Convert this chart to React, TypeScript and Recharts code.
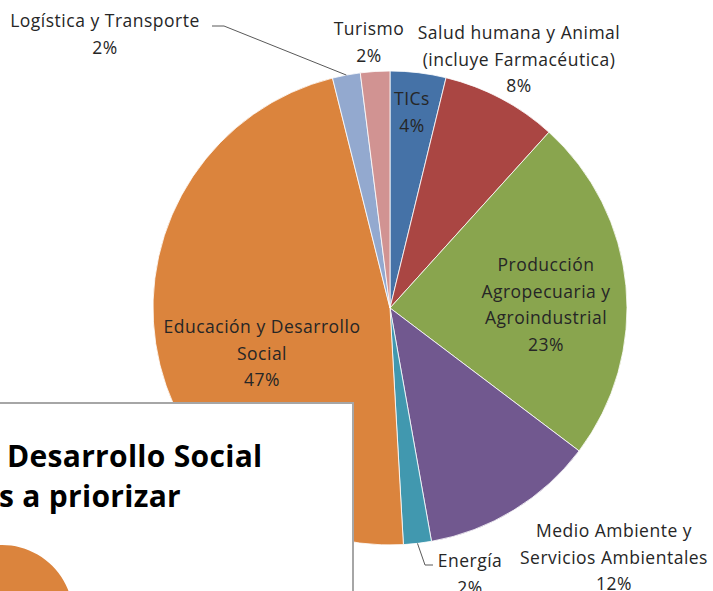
import React from 'react';
import { PieChart, Pie, Cell } from 'recharts';

const categories = [
  'TICs',
  'Salud humana y Animal (incluye Farmacéutica)',
  'Producción Agropecuaria y Agroindustrial',
  'Medio Ambiente y Servicios Ambientales',
  'Energía',
  'Educación y Desarrollo Social',
  'Logística y Transporte',
  'Turismo',
];
const shares = [3.8, 7.9, 23.6, 11.9, 1.9, 47.0, 1.9, 2.0];
const percentLabels = ['4%', '8%', '23%', '12%', '2%', '47%', '2%', '2%'];
const labelTextLines = [
  ['TICs'],
  ['Salud humana y Animal', '(incluye Farmacéutica)'],
  ['Producción', 'Agropecuaria y', 'Agroindustrial'],
  ['Medio Ambiente y', 'Servicios Ambientales'],
  ['Energía'],
  ['Educación y Desarrollo', 'Social'],
  ['Logística y Transporte'],
  ['Turismo'],
];
const colors = ['#4572A7', '#AA4643', '#89A54E', '#71588F', '#4198AF', '#DB843D', '#93A9CF', '#D19392'];

const overlayTitle = ['Desarrollo Social', 's a priorizar'];

// label layout offsets (relative to pie centre), and leader elbows
const labelLayout: { dx: number; dy: number; leader?: [number, number][] }[] = [
  { dx: 22, dy: -203 },
  { dx: 129, dy: -269 },
  { dx: 156, dy: -37 },
  { dx: 224, dy: 229 },
  { dx: 80, dy: 259, leader: [[35, 257], [43, 257]] },
  { dx: -128, dy: 25 },
  { dx: -285, dy: -281, leader: [[-166, -282], [-178, -282]] },
  { dx: -21, dy: -273 },
];

const data = categories.map((name, i) => ({ name, value: shares[i], pct: percentLabels[i] }));

const FONT = "'Open Sans', Lato, sans-serif";
const LINE_H = 26.5;
const RAD = Math.PI / 180;

const renderLabel = (props: any) => {
  const { cx, cy, midAngle, outerRadius, index } = props;
  const lay = labelLayout[index];
  const x = cx + lay.dx;
  const y = cy + lay.dy;
  const lines = [...labelTextLines[index], percentLabels[index]];
  let leader = null;
  if (lay.leader) {
    const sx = cx + outerRadius * Math.cos(-midAngle * RAD);
    const sy = cy + outerRadius * Math.sin(-midAngle * RAD);
    const pts = [[sx, sy], ...lay.leader.map(([a, b]) => [cx + a, cy + b])];
    leader = (
      <polyline
        points={pts.map((p) => p.join(',')).join(' ')}
        fill="none"
        stroke="#595959"
        strokeWidth={1}
      />
    );
  }
  return (
    <g key={`lbl-${index}`}>
      {leader}
      <text
        x={x}
        y={y}
        textAnchor="middle"
        fill="#262626"
        fontSize={17.5}
        letterSpacing={0.5}
        fontFamily={FONT}
      >
        {lines.map((l, i) => (
          <tspan key={i} x={x} y={y + i * LINE_H}>
            {l}
          </tspan>
        ))}
      </text>
    </g>
  );
};

export default function App() {
  return (
    <div
      style={{
        position: 'fixed',
        left: 0,
        top: 0,
        width: 713,
        height: 591,
        overflow: 'hidden',
        background: '#ffffff',
      }}
    >
      <PieChart width={713} height={591} margin={{ top: 0, right: 0, bottom: 0, left: 0 }}>
        <Pie
          data={data}
          dataKey="value"
          nameKey="name"
          cx={390}
          cy={308}
          outerRadius={237}
          startAngle={90}
          endAngle={-270}
          stroke="#ffffff"
          strokeWidth={0.8}
          label={renderLabel}
          labelLine={false}
          isAnimationActive={false}
        >
          {data.map((d, i) => (
            <Cell key={d.name} fill={colors[i]} />
          ))}
        </Pie>
      </PieChart>
      <div
        style={{
          position: 'absolute',
          left: -10,
          top: 402,
          width: 364,
          height: 220,
          border: '2px solid #a6a6a6',
          background: '#ffffff',
          overflow: 'hidden',
          boxSizing: 'border-box',
        }}
      >
        <svg width={364} height={220} style={{ position: 'absolute', left: 0, top: 0 }}>
          <text x={15} y={63} fontSize={30} fontWeight={700} fill="#000" fontFamily={FONT} letterSpacing={0.3}>
            {overlayTitle[0]}
          </text>
          <text x={7} y={103} fontSize={30} fontWeight={700} fill="#000" fontFamily={FONT} letterSpacing={0.3}>
            {overlayTitle[1]}
          </text>
        </svg>
        <div style={{ position: 'absolute', left: -70, top: 132 }}>
          <PieChart width={160} height={160} margin={{ top: 0, right: 0, bottom: 0, left: 0 }}>
            <Pie
              data={[{ name: 'Educación y Desarrollo Social', value: shares[5] }]}
              dataKey="value"
              cx={80}
              cy={80}
              outerRadius={71}
              stroke="none"
              isAnimationActive={false}
            >
              <Cell fill={colors[5]} />
            </Pie>
          </PieChart>
        </div>
      </div>
    </div>
  );
}
